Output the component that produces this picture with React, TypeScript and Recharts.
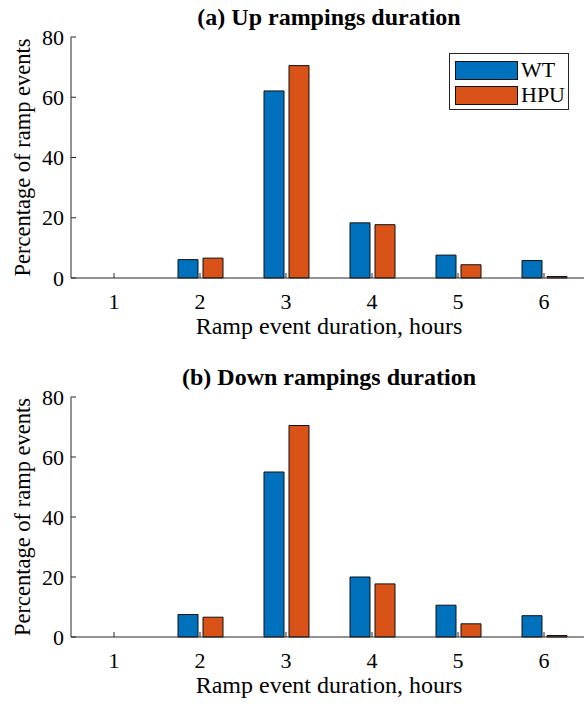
import React from 'react'
import { Bar, BarChart, XAxis, YAxis, Label } from 'recharts'

const durations = ['1', '2', '3', '4', '5', '6']
const upWT = [0, 6.1, 62.1, 18.3, 7.6, 5.8]
const upHPU = [0, 6.6, 70.5, 17.7, 4.4, 0.5]
const downWT = [0, 7.5, 55.0, 20.0, 10.6, 7.1]
const downHPU = [0, 6.6, 70.5, 17.7, 4.4, 0.5]
const yTicks = [0, 20, 40, 60, 80]

const SERIF = '"Liberation Serif", "Times New Roman", serif'
const AXIS = '#262626'
const WT_COLOR = '#0072BD'
const HPU_COLOR = '#D95319'

// MATLAB-style ticks: short marks pointing into the plot box
const BottomTick = ({ x, y, payload }: any) => (
  <g>
    <line x1={x} x2={x} y1={y} y2={y - 5} stroke={AXIS} />
    <text x={x} y={y + 23} textAnchor="middle" dominantBaseline="central" fontSize={22} fontFamily={SERIF} fill="#000">
      {payload.value}
    </text>
  </g>
)
const TopTick = ({ x, y }: any) => <line x1={x} x2={x} y1={y} y2={y + 5} stroke={AXIS} />
const LeftTick = ({ x, y, payload }: any) => (
  <g>
    <line x1={x} x2={x + 5} y1={y} y2={y} stroke={AXIS} />
    <text x={x - 7} y={y} textAnchor="end" dominantBaseline="central" fontSize={22} fontFamily={SERIF} fill="#000">
      {payload.value}
    </text>
  </g>
)
const RightTick = ({ x, y }: any) => <line x1={x} x2={x - 5} y1={y} y2={y} stroke={AXIS} />

function Panel({ title, wt, hpu, top, height, bottomMargin }: { title: string; wt: number[]; hpu: number[]; top: number; height: number; bottomMargin: number }) {
  const data = durations.map((d, i) => ({ d, WT: wt[i], HPU: hpu[i] }))
  return (
    <div style={{ position: 'absolute', left: 0, top, width: 600, height }}>
      <div style={{ position: 'absolute', left: 71, width: 516, top: 3, textAlign: 'center', fontFamily: SERIF, fontWeight: 'bold', fontSize: 24, lineHeight: '28px', color: '#000' }}>
        {title}
      </div>
      <BarChart width={600} height={height} data={data} margin={{ top: 37, right: 0, bottom: bottomMargin, left: 0 }} barSize={20} barGap={5}>
        <XAxis dataKey="d" height={62} tickSize={0} tickMargin={0} tick={<BottomTick />} axisLine={{ stroke: AXIS }} interval={0}>
          <Label
            content={({ viewBox }: any) => (
              <text x={viewBox.x + viewBox.width / 2} y={viewBox.y + 48} textAnchor="middle" dominantBaseline="central" fontSize={24} fontFamily={SERIF} fill="#000">
                Ramp event duration, hours
              </text>
            )}
          />
        </XAxis>
        <XAxis xAxisId="top" dataKey="d" orientation="top" height={0} tickSize={0} tickMargin={0} tick={<TopTick />} axisLine={{ stroke: AXIS }} interval={0} />
        <YAxis width={71} domain={[0, 80]} ticks={yTicks} tickSize={0} tickMargin={0} tick={<LeftTick />} axisLine={{ stroke: AXIS }} interval={0}>
          <Label
            content={({ viewBox }: any) => {
              const cx = 22
              const cy = viewBox.y + viewBox.height / 2
              return (
                <text x={cx} y={cy} transform={`rotate(-90 ${cx} ${cy})`} textAnchor="middle" dominantBaseline="central" fontSize={22.5} fontFamily={SERIF} fill="#000">
                  Percentage of ramp events
                </text>
              )
            }}
          />
        </YAxis>
        <YAxis yAxisId="right" orientation="right" width={13} domain={[0, 80]} ticks={yTicks} tickSize={0} tickMargin={0} tick={<RightTick />} axisLine={{ stroke: AXIS }} interval={0} />
        <Bar dataKey="WT" fill={WT_COLOR} stroke="#111" strokeWidth={1} isAnimationActive={false} />
        <Bar dataKey="HPU" fill={HPU_COLOR} stroke="#111" strokeWidth={1} isAnimationActive={false} />
      </BarChart>
    </div>
  )
}

function LegendBox() {
  const row = (color: string, name: string, y: number) => (
    <div style={{ position: 'absolute', left: 5, top: y, height: 18, display: 'flex', alignItems: 'center' }}>
      <div style={{ width: 61, height: 17, background: color, border: '1px solid #111' }} />
      <span style={{ marginLeft: 3, fontFamily: SERIF, fontSize: 22, lineHeight: '18px', color: '#000' }}>{name}</span>
    </div>
  )
  return (
    <div style={{ position: 'absolute', left: 449, top: 53, width: 118, height: 55, background: '#fff', border: '1px solid #262626' }}>
      {row(WT_COLOR, 'WT', 7)}
      {row(HPU_COLOR, 'HPU', 32)}
    </div>
  )
}

export default function App() {
  return (
    <div style={{ position: 'fixed', left: 0, top: 0, width: 584, height: 706, overflow: 'hidden', background: '#fff' }}>
      <Panel title="(a) Up rampings duration" wt={upWT} hpu={upHPU} top={0} height={340} bottomMargin={0} />
      <Panel title="(b) Down rampings duration" wt={downWT} hpu={downHPU} top={360} height={346} bottomMargin={7} />
      <LegendBox />
    </div>
  )
}
